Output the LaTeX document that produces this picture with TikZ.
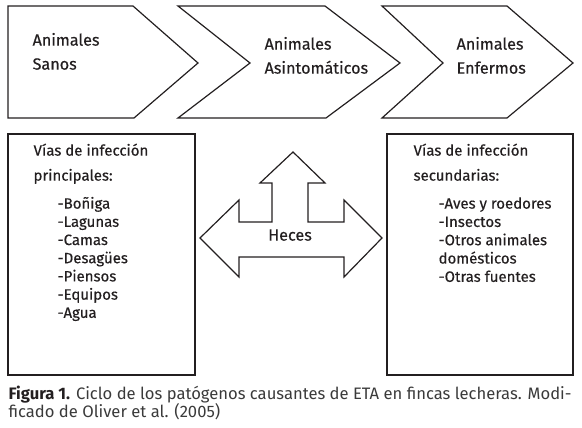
\documentclass[tikz,border=0pt]{standalone}
\usepackage{fontspec}
\setmainfont{Fira Sans}
\newfontfamily\diagfont{Fira Sans}[FakeBold=0.4]
\definecolor{ink}{HTML}{231F20}
\definecolor{capgray}{HTML}{3A3A3A}
\begin{document}
\begin{tikzpicture}[x=1pt,y=-1pt,line width=1.2pt,
  outline/.style={draw=ink,line join=miter},
  txt/.style={anchor=mid west,inner sep=0pt,font=\diagfont\fontsize{15}{18}\selectfont,text=ink},
  bigtxt/.style={txt,font=\diagfont\fontsize{16.2}{18}\selectfont},
  captxt/.style={anchor=base west,inner sep=0pt,font=\fontsize{16.6}{19}\selectfont,text=capgray}]
\useasboundingbox (0,0) rectangle (582,428);
% chevrons
\draw[outline] (8,6) -- (133,6) -- (198,63) -- (134,118) -- (8,118) -- cycle;
\draw[outline] (178,6) -- (325,6) -- (400,63) -- (326,118) -- (178,118) -- (250,63) -- cycle;
\draw[outline] (382,6) -- (507,6) -- (573,63) -- (507,118) -- (382,118) -- (443,63) -- cycle;
\node[bigtxt] (s1) at (32,43) {Animales};
\node[bigtxt] (s2) at (32,67) {Sanos};
\node[bigtxt] (a1) at (264,47) {Animales};
\node[bigtxt] (a2) at (264,71) {Asintomáticos};
\node[bigtxt] (e1) at (456,47) {Animales};
\node[bigtxt] (e2) at (456,71) {Enfermos};
% boxes
\draw[outline] (8,134) rectangle (195,375);
\draw[outline] (387,134) rectangle (573,375);
\node[txt] (p0) at (33,153) {Vías de infección};
\node[txt] (p1) at (33,178) {principales:};
\foreach \t [count=\i from 0] in {-Boñiga,-Lagunas,-Camas,-Desagües,-Piensos,-Equipos,-Agua}
  \node[txt] (pi\i) at (57,206+18.2*\i) {\t};
\node[txt] (q0) at (413,153) {Vías de infección};
\node[txt] (q1) at (413,178) {secundarias:};
\foreach \t [count=\i from 0] in {-Aves y roedores,-Insectos,-Otros animales,domésticos,-Otras fuentes}
  \node[txt] (qi\i) at (438,206+18.3*\i) {\t};
% triple arrow
\draw[outline] (200,238) -- (239,200) -- (239,222) -- (272,222) -- (272,183) -- (260,183)
  -- (293,152) -- (325,183) -- (308,183) -- (308,222) -- (344,222) -- (344,200)
  -- (382,238) -- (344,277) -- (344,257) -- (239,257) -- (239,277) -- cycle;
\node[bigtxt,anchor=mid] (heces) at (290,238) {Heces};
% caption
\node[captxt] (c1) at (8,399) {\textbf{\color{ink}Figura 1.} Ciclo de los patógenos causantes de ETA en fincas lecheras. Modi-};
\node[captxt] (c2) at (8,417) {ficado de Oliver et al. (2005)};
\end{tikzpicture}
\end{document}
